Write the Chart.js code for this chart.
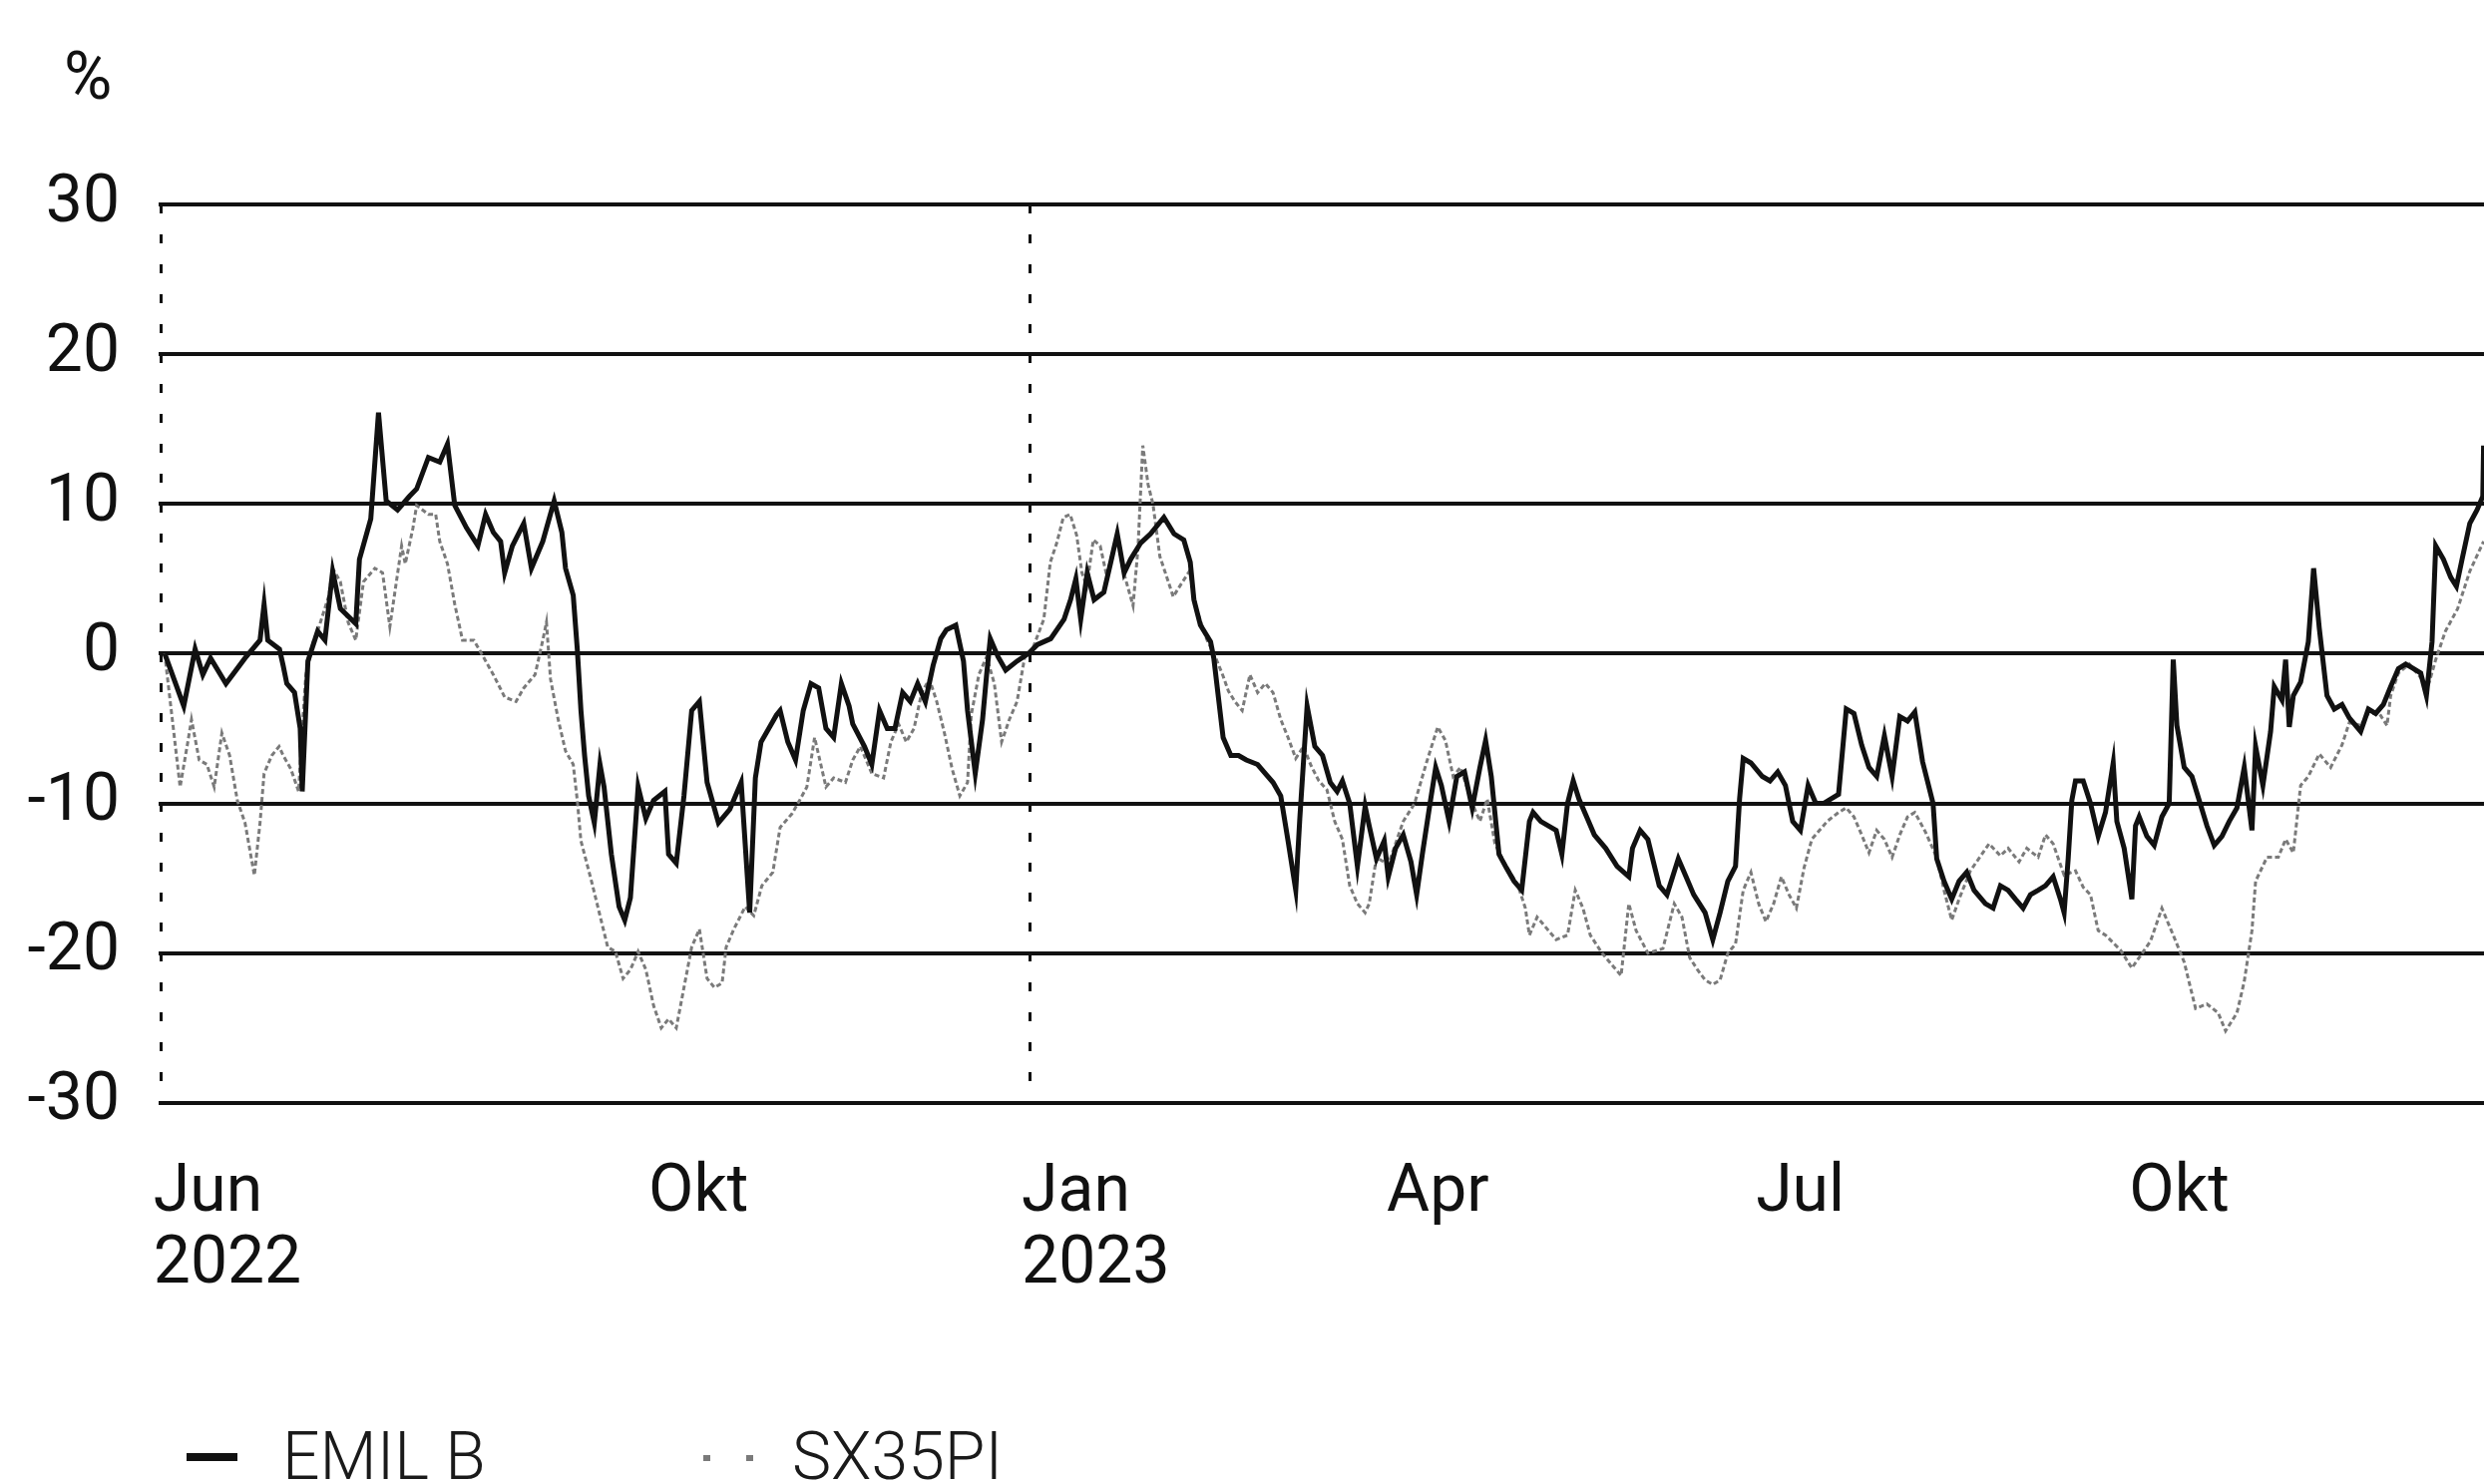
<!DOCTYPE html>
<html>
<head>
<meta charset="utf-8">
<script src="https://cdn.jsdelivr.net/npm/chart.js@4.4.1/dist/chart.umd.min.js"></script>
<style>
  html, body { margin: 0; padding: 0; background: #ffffff; overflow: hidden; }
  #wrap { position: relative; width: 2490px; height: 1488px; }
  #unit { position: absolute; left: 64px; top: 37px; height: 80px; line-height: 80px;
          font-family: Roboto, "Noto Sans", sans-serif; font-size: 66px; font-weight: 400; color: #111111; }
  #legend { position: absolute; left: 0; top: 1421px; width: 2490px; height: 80px;
            font-family: Roboto, "Noto Sans", sans-serif; font-size: 66px; font-weight: 300; color: #1a1a1a; }
  .item { position: absolute; top: 0; height: 80px; line-height: 80px; white-space: nowrap; }
  .mark { position: absolute; }
  .txt { position: absolute; top: 0; }
</style>
</head>
<body>
<div id="wrap">
  <canvas id="c" width="2490" height="1488"></canvas>
  <div id="unit"></div>
  <div id="legend"></div>
</div>
<script>
// x values are days counted from 1 June 2022
const seriesNames = ['EMIL B', 'SX35PI'];
const unitLabel = '%';

const tickDays   = [0, 122, 214, 304, 395, 487];
const tickLabels = [['Jun', '2022'], ['Okt'], ['Jan', '2023'], ['Apr'], ['Jul'], ['Okt']];
const dottedDays = [0, 214];

const yTicks = [-30, -20, -10, 0, 10, 20, 30];

const emilDays = [0.8,5.5,8.3,10.2,12.1,15.9,20.6,24.3,25.3,26.2,29.1,30,30.9,32.8,34.2,34.7,36.1,38.5,40.3,42.2,44.1,47.9,48.8,51.6,53.5,55.4,58.2,61.1,62.9,65.8,68.6,70.5,72.3,75.2,78,79.9,81.8,83.6,84.6,86.5,89.3,91.2,94,96.8,98.7,99.6,101.5,102.5,103.4,104.3,105.3,106.7,108.1,109.1,110.9,112.8,114.2,115.6,117.5,119.4,121.3,124.1,125,126.9,128.8,130.7,132.6,134.5,137.3,140.1,142.9,145,146.4,147.8,149.7,151.6,152.5,154.4,156.3,158.2,160.1,162,163.8,165.7,167.6,169.5,170.4,173.3,175.1,177,178.9,180.8,182.7,184.6,186.4,188.3,190.2,192.1,193.5,195.8,197.7,198.7,200.6,202.4,203.4,204.3,206.2,208.1,210.9,213.7,215.9,219.2,222.5,224.1,225.4,226.6,228.2,229.9,232.3,234,235.6,237.3,238.9,241.4,243.8,247.1,249.6,252,253.6,254.5,256.1,258.6,259.4,261.7,263.6,265.5,267.4,270.2,272.1,274,275.9,277.7,279.6,280.6,282.4,284.3,286.2,288.1,289.8,291.1,292.9,294.8,296.7,297.7,299.5,301.4,302.4,304.2,306.1,308,309.4,310.8,312.7,314.1,315.5,317.4,319.3,321.2,323.1,325,326.4,327.8,329.7,331.5,333.4,335.3,337.2,338.1,340,341.9,343.8,345.2,346.6,348,349.4,351.3,353.2,356,358.8,361.7,362.6,364.5,366.4,369.2,371.1,373.9,375.8,377.7,380.5,382.4,384.2,386.1,388,389,389.9,391.8,394.6,396.5,398.4,400.3,402.1,404,405.9,407.8,409.7,411.5,413.4,415.3,417.2,419.1,420.9,422.8,424.7,426.6,428.5,430.4,432.2,434.1,436.7,437.6,439.4,441.3,443.1,445,446.8,449.6,451.5,453.3,455.2,457,458.9,460.7,462.6,464.4,466.3,468.1,469,470,470.9,471.8,473.7,475.5,477.4,479.2,481.1,482,483.8,485.7,486.6,487.5,489.4,491.2,493.1,494.9,495.9,496.8,498.6,500.5,502.3,504.2,506,507.9,509.7,511.6,513.4,515.3,516.2,518,519.9,520.8,522.7,523.6,524.5,525.5,527.3,529.2,530.5,531.9,533.8,535.6,537.5,539.3,542.1,544,545.8,547.7,549.5,551.4,553.2,555.1,556.9,558.3,559.7,560.6,562.5,564.3,565.7,567.1,569,570.8,572.2,572.4];
const emilValues = [0,-3.5,0.3,-1.4,-0.3,-2,-0.3,0.9,3.3,0.9,0.3,-0.8,-2,-2.6,-5,-9.2,-0.5,1.5,0.9,5.5,3,2,6.3,9,16.1,10.2,9.6,10.5,11,13.1,12.8,14,9.9,8.4,7.2,9.3,8.1,7.5,5.4,7.2,8.7,5.7,7.5,10.2,8.1,5.7,3.9,0.3,-3.8,-6.8,-9.5,-11.3,-7.4,-8.9,-13.4,-16.9,-17.8,-16.3,-8.9,-11,-9.8,-9.2,-13.4,-14,-9.5,-3.8,-3.2,-8.6,-11.3,-10.4,-8.6,-17.3,-8.3,-5.9,-5,-4.1,-3.8,-5.9,-7.1,-3.8,-2,-2.3,-5,-5.6,-2,-3.5,-4.7,-6.2,-7.4,-3.8,-5,-5,-2.6,-3.2,-2,-3.2,-0.8,1,1.6,1.9,-0.5,-3.8,-8,-4.4,-1.4,1,-0.2,-1.1,-0.5,0,0.6,1,2.3,3.6,5,2.3,5.4,3.6,4.1,6.1,8,5.4,6.3,7.4,8,9.1,8,7.6,6.1,3.6,1.9,0.8,-0.3,-5.6,-6.8,-6.8,-7.1,-7.4,-8,-8.6,-9.5,-12.5,-15.8,-11,-3.5,-6.2,-6.8,-8.6,-9.2,-8.5,-10,-14.2,-10.2,-11.5,-13.7,-12.5,-14.9,-13,-12.1,-13.9,-16.1,-13.4,-10,-7.6,-8.8,-11.2,-8.2,-7.9,-10.3,-7.6,-5.8,-8.2,-13.4,-14.3,-15.2,-15.8,-11.2,-10.6,-11.2,-11.5,-11.8,-13.4,-10,-8.5,-9.7,-10.9,-12.1,-13,-14.2,-14.9,-13,-11.8,-12.4,-15.5,-16.1,-13.7,-14.9,-16.1,-17.3,-19.1,-17.3,-15.2,-14.2,-9.7,-7,-7.3,-8.2,-8.5,-7.9,-8.8,-11.2,-11.8,-8.8,-10,-10,-9.7,-9.4,-3.7,-4,-6.1,-7.6,-8.2,-5.5,-8.2,-4.2,-4.5,-3.9,-7.2,-10,-13.7,-15.2,-16.4,-15.2,-14.6,-15.8,-16.7,-17,-15.5,-15.8,-16.4,-17,-16.1,-15.8,-15.5,-14.9,-16.4,-17.3,-13.7,-9.8,-8.5,-8.5,-10,-12.2,-10.6,-7.3,-11.2,-13,-16.4,-11.5,-10.9,-12.2,-12.8,-10.9,-10,-0.4,-4.8,-7.6,-8.2,-9.8,-11.5,-12.8,-12.2,-11.2,-10.3,-7.6,-11.8,-6.2,-8.8,-5.2,-2.2,-3.1,-0.4,-4.9,-2.8,-1.9,0.8,5.7,1.7,-2.8,-3.7,-3.4,-4.3,-5.2,-3.7,-4,-3.4,-2.2,-1,-0.7,-1,-1.3,-2.8,0.8,7.2,6.3,5.1,4.5,6.3,8.7,9.6,10.5,13.9];

const sxDays = [0.8,4.6,6.5,7.4,9.3,11.2,13,14.9,16.8,18.7,20.6,22.9,24.3,25.3,27.2,29,30,31.9,33.8,34.7,35.6,37.5,38.5,41.3,42.2,44.1,46,47.9,49.8,52.6,54.5,56.3,59.2,60.1,62,62.9,65.8,67.6,68.6,70.5,72.3,74.2,77,78.9,81.8,84.6,87.4,89.3,92.1,94,94.9,95.9,97.8,99.6,101.5,102.5,103.4,106.2,108.1,110,111.9,113.8,115.6,117.5,119.4,121.3,123.2,125,126.9,128.8,130.7,132.6,134.5,136.3,138.2,139.2,141.1,143.9,146,148,150.7,152.5,155.4,157.3,159.1,161,163.8,165.7,168.6,170.4,172.3,175.1,178,179.8,181.7,183.6,185.5,187.4,189.3,191.1,193,194.9,196.8,198.7,199.6,201.5,203.4,205.3,207.1,209,210.9,212.8,214.7,217.5,219.1,220.7,222.3,224,225.6,226.9,228.1,229.7,231.4,233,235.5,237.1,239.5,240.7,241.9,243.2,244.4,246.1,247.7,249.4,251,253.4,255.1,257.6,259.9,261.7,263,264.6,266.4,268.3,270.2,272.1,274,275.9,277.7,279.6,281.5,283.4,285.3,287.3,289.2,291.1,292.9,294.8,296.7,297.7,299.5,302.4,306.1,308.9,311.8,314.6,316.5,318.4,320.2,323.1,325,326.8,328.7,331.5,334.4,336.2,337.2,339.1,341,343.8,346.6,348.5,350.4,352.2,355.1,357.9,359.8,361.7,363.5,366.4,370.1,372.9,374.8,376.7,378.6,380.5,382.4,384.2,386.1,388,389.9,391.8,393.7,395.5,397.4,399.3,401.2,403,404.9,406.8,408.7,410.6,413.4,415.3,417.2,419.1,420.9,422.8,424.7,426.6,428.5,430.4,432.2,434.8,437.6,439.4,441.3,443.1,445.9,450.5,453.3,455.2,457.9,459.8,462.6,464.4,466.3,469,471.8,473.7,475.5,477.4,479.2,482.9,485.7,490.3,493.1,495.9,498.6,501.4,504.2,507,508.8,511.6,513.4,515.3,516.2,519,521.8,523.6,525.5,527.3,529.2,531.9,534.7,537.5,539.3,542.1,544,546.7,548.6,549.5,551.4,554.1,556.9,558.7,560.6,563,566,569,572.4];
const sxValues = [0,-8.9,-5.9,-4.4,-7.1,-7.4,-8.9,-5.3,-6.8,-9.8,-11.3,-14.8,-11.3,-8,-6.8,-6.2,-6.8,-7.7,-9.2,-5,-1.4,0.9,1.5,3.9,5.7,4.8,2.1,0.9,4.8,5.7,5.4,1.8,7.2,6,8.4,9.9,9.3,9.3,7.5,6,3.3,0.9,0.9,0,-1.4,-2.9,-3.2,-2.3,-1.4,0.9,2.1,-1.7,-4.4,-6.5,-7.4,-9.8,-12.5,-15.4,-17.5,-19.6,-19.9,-21.7,-21.1,-19.9,-21.1,-23.5,-25,-24.4,-25,-22.3,-19.6,-18.4,-21.7,-22.3,-22,-19.6,-18.4,-16.9,-17.5,-15.5,-14.6,-11.6,-10.7,-9.8,-8.9,-5.6,-8.9,-8.3,-8.6,-7.1,-6.2,-8,-8.3,-5.9,-4.7,-5.9,-5,-2.6,-1.7,-3.2,-5.3,-7.7,-9.5,-8.6,-4.1,-1.4,-0.2,-2,-5.9,-4.4,-3.2,-0.2,0.3,2.3,6.1,7.4,9.1,9.3,7.9,5.4,4.5,7.6,7.2,5.2,7.9,5.5,3.2,7,13.9,11.3,10,6.5,5.2,3.8,4.5,5.5,3,1,-0.3,-1.5,-2.5,-3.2,-3.8,-1.4,-2.6,-2,-2.6,-4.4,-5.6,-7,-6.2,-7.5,-8.5,-9.1,-11.2,-12.4,-15.5,-16.7,-17.3,-16.7,-13.6,-14.1,-11.2,-10,-7.3,-4.9,-5.8,-8.2,-7.6,-10,-11.2,-9.7,-12.7,-14.2,-15.5,-17,-18.8,-17.6,-18.2,-19.1,-18.8,-15.8,-17,-18.8,-20,-20.9,-21.5,-16.7,-18.5,-20,-19.7,-16.7,-17.6,-20.3,-21.1,-21.8,-22.1,-21.8,-20,-19.4,-15.8,-14.6,-16.7,-17.9,-16.7,-14.9,-16.1,-17,-14.3,-12.4,-11.8,-11.2,-10.6,-10.3,-10.9,-12.1,-13.3,-11.8,-12.4,-13.6,-12.1,-10.9,-10.6,-11.9,-13.6,-15.8,-17.8,-16.4,-14.5,-12.7,-13.5,-13,-13.9,-13,-13.6,-12.1,-12.7,-14.8,-14.5,-15.6,-16.1,-18.5,-18.8,-19.8,-21,-19.2,-17,-18.8,-20.6,-23.7,-23.4,-24,-25.2,-24,-21.9,-18.5,-15.2,-13.6,-13.6,-12.4,-13.3,-8.8,-8.2,-6.7,-7.6,-6.1,-4.6,-4.8,-4,-4,-4.8,-2.8,-1.3,-0.7,-1.6,-2.2,-0.4,1.5,3,5.5,7.5];

const FONT = 'Roboto, "Noto Sans", sans-serif';
Chart.defaults.font.family = FONT;
Chart.defaults.color = '#111111';

const toPoints = (xs, ys) => xs.map((x, i) => ({ x: x, y: ys[i] }));

const styles = [
  { borderColor: '#111111', borderWidth: 5 },
  { borderColor: '#7a7a7a', borderWidth: 3, borderDash: [5, 3] }
];

const chart = new Chart(document.getElementById('c'), {
  type: 'line',
  data: {
    datasets: [
      Object.assign({ label: seriesNames[0], data: toPoints(emilDays, emilValues), pointRadius: 0, tension: 0 }, styles[0]),
      Object.assign({ label: seriesNames[1], data: toPoints(sxDays, sxValues), pointRadius: 0, tension: 0 }, styles[1])
    ]
  },
  options: {
    responsive: false,
    animation: false,
    devicePixelRatio: 1,
    layout: { padding: { left: 20, right: 0, top: 205, bottom: 127 } },
    plugins: {
      legend: { display: false },
      tooltip: { enabled: false },
      title: { display: false }
    },
    scales: {
      x: {
        type: 'linear', min: -0.7, max: 572.5,
        afterBuildTicks: (s) => { s.ticks = tickDays.map(v => ({ value: v })); },
        grid: {
          drawTicks: false, lineWidth: 3,
          color: (ctx) => (ctx.tick && dottedDays.includes(ctx.tick.value)) ? '#111111' : 'rgba(0,0,0,0)'
        },
        border: { display: false, dash: [9, 21] },
        ticks: {
          autoSkip: false, maxRotation: 0, minRotation: 0, align: 'start', labelOffset: -8, padding: 55,
          color: '#111111', font: { family: FONT, size: 66, lineHeight: 1.1 },
          callback: (v, i) => tickLabels[i]
        }
      },
      y: {
        min: yTicks[0], max: yTicks[yTicks.length - 1],
        afterFit: (s) => { s.width = 139; },
        afterBuildTicks: (s) => { s.ticks = yTicks.map(v => ({ value: v })); },
        ticks: { padding: 39, color: '#111111', font: { family: FONT, size: 66, lineHeight: 1.09 } },
        grid: { drawTicks: false, color: '#111111', lineWidth: 4 },
        border: { display: false }
      }
    }
  }
});

document.getElementById('unit').textContent = unitLabel;

// HTML legend built from the chart's datasets
const legendLeft = [187, 700];
const legendEl = document.getElementById('legend');
chart.data.datasets.forEach((ds, i) => {
  const item = document.createElement('div');
  item.className = 'item';
  item.style.left = legendLeft[i] + 'px';
  const mark = document.createElement('span');
  mark.className = 'mark';
  if (ds.borderDash) {
    mark.style.cssText = 'left:5px;top:38px;width:50px;height:6px;background:linear-gradient(90deg,' + ds.borderColor + ' 0 7px, transparent 7px 43px);background-size:43px 6px;background-repeat:repeat-x;';
  } else {
    mark.style.cssText = 'left:0;top:36px;width:51px;height:8px;background:' + ds.borderColor + ';';
  }
  const txt = document.createElement('span');
  txt.className = 'txt';
  txt.style.left = (i === 0 ? 96 : 94) + 'px';
  txt.textContent = ds.label;
  item.appendChild(mark);
  item.appendChild(txt);
  legendEl.appendChild(item);
});
</script>
</body>
</html>
